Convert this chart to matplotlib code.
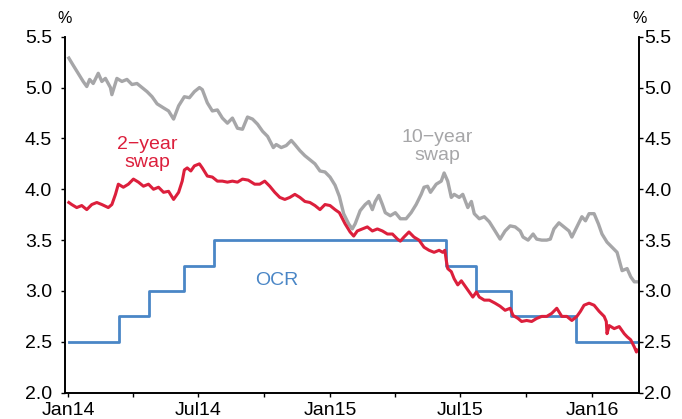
# NZ swap rates vs OCR, Jan 2014 - Mar 2016
import pandas as pd
import matplotlib
matplotlib.use("Agg")
import matplotlib.pyplot as plt
import matplotlib.dates as mdates
from matplotlib.ticker import FixedLocator, FormatStrFormatter

plt.rcParams['font.family'] = ['Liberation Sans', 'DejaVu Sans']

# ---- data ----
swap10_dates = [
    "2014-01-02", "2014-01-08", "2014-01-15", "2014-01-22", "2014-01-27", "2014-01-31",
    "2014-02-05", "2014-02-12", "2014-02-17", "2014-02-22", "2014-03-01", "2014-03-03",
    "2014-03-10", "2014-03-17", "2014-03-24", "2014-03-31", "2014-04-07", "2014-04-14",
    "2014-04-21", "2014-04-28", "2014-05-05", "2014-05-14", "2014-05-21", "2014-05-28",
    "2014-06-04", "2014-06-12", "2014-06-19", "2014-06-26", "2014-07-03", "2014-07-07",
    "2014-07-14", "2014-07-21", "2014-07-28", "2014-08-04", "2014-08-11", "2014-08-18",
    "2014-08-25", "2014-09-01", "2014-09-08", "2014-09-15", "2014-09-22", "2014-09-29",
    "2014-10-06", "2014-10-14", "2014-10-18", "2014-10-25", "2014-11-01", "2014-11-08",
    "2014-11-13", "2014-11-20", "2014-11-27", "2014-12-04", "2014-12-11", "2014-12-18",
    "2014-12-25", "2015-01-01", "2015-01-08", "2015-01-14", "2015-01-20", "2015-01-27",
    "2015-02-01", "2015-02-05", "2015-02-12", "2015-02-19", "2015-02-24", "2015-03-01",
    "2015-03-05", "2015-03-10", "2015-03-15", "2015-03-19", "2015-03-26", "2015-04-02",
    "2015-04-09", "2015-04-17", "2015-04-24", "2015-05-01", "2015-05-08", "2015-05-12",
    "2015-05-17", "2015-05-21", "2015-05-29", "2015-06-05", "2015-06-09", "2015-06-14",
    "2015-06-19", "2015-06-23", "2015-06-30", "2015-07-05", "2015-07-12", "2015-07-17",
    "2015-07-21", "2015-07-28", "2015-08-04", "2015-08-11", "2015-08-19", "2015-08-26",
    "2015-09-02", "2015-09-09", "2015-09-16", "2015-09-23", "2015-09-27", "2015-10-04",
    "2015-10-11", "2015-10-16", "2015-10-23", "2015-10-30", "2015-11-04", "2015-11-09",
    "2015-11-16", "2015-11-23", "2015-11-30", "2015-12-04", "2015-12-11", "2015-12-18",
    "2015-12-23", "2015-12-28", "2016-01-04", "2016-01-10", "2016-01-15", "2016-01-22",
    "2016-01-29", "2016-02-05", "2016-02-12", "2016-02-19", "2016-02-24", "2016-02-29",
    "2016-03-04",
]
swap10 = [
    5.29, 5.22, 5.14, 5.06, 5.01, 5.08,
    5.04, 5.14, 5.06, 5.09, 5.00, 4.93,
    5.09, 5.06, 5.08, 5.03, 5.04, 5.00,
    4.96, 4.91, 4.84, 4.80, 4.77, 4.69,
    4.82, 4.91, 4.90, 4.96, 5.00, 4.98,
    4.85, 4.77, 4.78, 4.70, 4.65, 4.70,
    4.60, 4.59, 4.71, 4.69, 4.64, 4.57,
    4.52, 4.41, 4.44, 4.41, 4.43, 4.48,
    4.44, 4.38, 4.33, 4.29, 4.25, 4.18,
    4.17, 4.12, 4.04, 3.93, 3.76, 3.66,
    3.61, 3.66, 3.79, 3.85, 3.88, 3.80,
    3.88, 3.94, 3.85, 3.77, 3.74, 3.77,
    3.71, 3.71, 3.77, 3.85, 3.95, 4.02,
    4.03, 3.97, 4.05, 4.08, 4.16, 4.08,
    3.92, 3.95, 3.92, 3.95, 3.82, 3.88,
    3.76, 3.71, 3.73, 3.68, 3.59, 3.51,
    3.59, 3.64, 3.63, 3.59, 3.53, 3.50,
    3.56, 3.51, 3.50, 3.50, 3.51, 3.61,
    3.67, 3.63, 3.59, 3.53, 3.63, 3.73,
    3.69, 3.76, 3.76, 3.66, 3.56, 3.48,
    3.43, 3.38, 3.20, 3.22, 3.14, 3.09,
    3.09,
]

swap2_dates = [
    "2014-01-02", "2014-01-06", "2014-01-13", "2014-01-20", "2014-01-27", "2014-02-03",
    "2014-02-10", "2014-02-17", "2014-02-26", "2014-03-03", "2014-03-08", "2014-03-12",
    "2014-03-19", "2014-03-26", "2014-04-02", "2014-04-09", "2014-04-16", "2014-04-23",
    "2014-04-30", "2014-05-07", "2014-05-14", "2014-05-21", "2014-05-28", "2014-06-04",
    "2014-06-09", "2014-06-12", "2014-06-16", "2014-06-21", "2014-06-26", "2014-07-03",
    "2014-07-07", "2014-07-14", "2014-07-21", "2014-07-28", "2014-08-04", "2014-08-11",
    "2014-08-18", "2014-08-25", "2014-09-01", "2014-09-09", "2014-09-18", "2014-09-25",
    "2014-10-02", "2014-10-09", "2014-10-16", "2014-10-23", "2014-10-30", "2014-11-06",
    "2014-11-13", "2014-11-20", "2014-11-27", "2014-12-04", "2014-12-11", "2014-12-18",
    "2014-12-25", "2015-01-01", "2015-01-08", "2015-01-14", "2015-01-22", "2015-01-29",
    "2015-02-03", "2015-02-08", "2015-02-15", "2015-02-22", "2015-03-01", "2015-03-08",
    "2015-03-15", "2015-03-22", "2015-03-29", "2015-04-05", "2015-04-09", "2015-04-14",
    "2015-04-21", "2015-04-28", "2015-05-05", "2015-05-12", "2015-05-19", "2015-05-26",
    "2015-06-02", "2015-06-07", "2015-06-10", "2015-06-12", "2015-06-14", "2015-06-19",
    "2015-06-23", "2015-06-28", "2015-07-03", "2015-07-07", "2015-07-12", "2015-07-16",
    "2015-07-19", "2015-07-24", "2015-07-28", "2015-08-04", "2015-08-11", "2015-08-19",
    "2015-08-26", "2015-09-02", "2015-09-09", "2015-09-13", "2015-09-20", "2015-09-25",
    "2015-10-02", "2015-10-09", "2015-10-16", "2015-10-23", "2015-10-30", "2015-11-06",
    "2015-11-13", "2015-11-20", "2015-11-27", "2015-12-04", "2015-12-11", "2015-12-16",
    "2015-12-21", "2015-12-28", "2016-01-04", "2016-01-11", "2016-01-18", "2016-01-21",
    "2016-01-22", "2016-01-25", "2016-02-01", "2016-02-08", "2016-02-15", "2016-02-19",
    "2016-02-24", "2016-02-29", "2016-03-03", "2016-03-04",
]
swap2 = [
    3.87, 3.85, 3.82, 3.84, 3.80, 3.85,
    3.87, 3.85, 3.82, 3.85, 3.95, 4.05,
    4.02, 4.05, 4.10, 4.07, 4.03, 4.05,
    4.00, 4.02, 3.97, 3.98, 3.90, 3.97,
    4.08, 4.19, 4.21, 4.18, 4.23, 4.25,
    4.21, 4.13, 4.12, 4.08, 4.08, 4.07,
    4.08, 4.07, 4.10, 4.09, 4.05, 4.05,
    4.08, 4.03, 3.97, 3.92, 3.90, 3.92,
    3.95, 3.92, 3.88, 3.87, 3.84, 3.80,
    3.85, 3.84, 3.80, 3.77, 3.66, 3.58,
    3.54, 3.59, 3.61, 3.63, 3.59, 3.61,
    3.59, 3.56, 3.56, 3.51, 3.49, 3.53,
    3.58, 3.53, 3.50, 3.43, 3.40, 3.38,
    3.40, 3.38, 3.40, 3.30, 3.22, 3.19,
    3.12, 3.06, 3.10, 3.06, 3.01, 2.97,
    2.94, 2.99, 2.94, 2.91, 2.91, 2.88,
    2.85, 2.81, 2.83, 2.76, 2.73, 2.70,
    2.71, 2.70, 2.73, 2.75, 2.75, 2.78,
    2.83, 2.75, 2.75, 2.71, 2.75, 2.80,
    2.86, 2.88, 2.86, 2.80, 2.75, 2.70,
    2.58, 2.66, 2.63, 2.65, 2.58, 2.55,
    2.52, 2.45, 2.40, 2.42,
]

ocr_dates = ["2014-01-02", "2014-03-13", "2014-04-24", "2014-06-12", "2014-07-24",
             "2015-06-11", "2015-07-23", "2015-09-10", "2015-12-10", "2016-03-04"]
ocr = [2.50, 2.75, 3.00, 3.25, 3.50, 3.25, 3.00, 2.75, 2.50, 2.50]

y_ticks = [2.0, 2.5, 3.0, 3.5, 4.0, 4.5, 5.0, 5.5]

# ---- colours ----
c_red = "#DC1F3C"
c_grey = "#A6A6A8"
c_blue = "#4A86C6"

fig = plt.figure(figsize=(6.82, 4.19), dpi=100)
ax = fig.add_axes([0.0946, 0.0628, 0.8428, 0.8496])

ax.plot(pd.to_datetime(swap10_dates), swap10, color=c_grey, lw=2.4, zorder=2)
ax.plot(pd.to_datetime(ocr_dates), ocr, color=c_blue, lw=2.0, drawstyle='steps-post', zorder=3)
ax.plot(pd.to_datetime(swap2_dates), swap2, color=c_red, lw=2.2, zorder=4)

ax.set_xlim(pd.Timestamp("2013-12-27"), pd.Timestamp("2016-03-07"))
ax.set_ylim(2.0, 5.5)

# x axis: labels every Jan/Jul, minor ticks Apr/Oct
ax.xaxis.set_major_locator(mdates.MonthLocator(bymonth=[1, 7]))
ax.xaxis.set_minor_locator(mdates.MonthLocator(bymonth=[4, 10]))
ax.xaxis.set_major_formatter(mdates.DateFormatter("%b%y"))
ax.tick_params(axis='x', which='both', direction='out', length=3, width=1, pad=4,
               labelsize=14, color='black')

ax.yaxis.set_major_locator(FixedLocator(y_ticks))
ax.yaxis.set_major_formatter(FormatStrFormatter('%.1f'))
ax.tick_params(axis='y', direction='out', length=3, width=1, pad=6, labelsize=14)

# right-hand axis mirrors the left
ax2 = ax.twinx()
ax2.set_ylim(2.0, 5.5)
ax2.yaxis.set_major_locator(FixedLocator(y_ticks))
ax2.yaxis.set_major_formatter(FormatStrFormatter('%.1f'))
ax2.tick_params(axis='y', direction='out', length=3, width=1, pad=0.5, labelsize=14)

for a in (ax, ax2):
    a.spines['top'].set_visible(False)
    for s in ('left', 'right', 'bottom'):
        a.spines[s].set_linewidth(1.2)

ax.text(0.0, 1.05, "%", transform=ax.transAxes, ha='center', va='center', fontsize=11.5)
ax.text(1.0, 1.05, "%", transform=ax.transAxes, ha='center', va='center', fontsize=11.5)

ax.text(pd.Timestamp("2014-04-21"), 4.35, "2\u2212year\nswap", color=c_red,
        ha='center', va='center', fontsize=14, linespacing=1.1)
ax.text(pd.Timestamp("2015-05-31"), 4.42, "10\u2212year\nswap", color=c_grey,
        ha='center', va='center', fontsize=14, linespacing=1.1)
ax.text(pd.Timestamp("2014-10-19"), 3.10, "OCR", color=c_blue,
        ha='center', va='center', fontsize=14)

fig.savefig("out.png", dpi=100)
